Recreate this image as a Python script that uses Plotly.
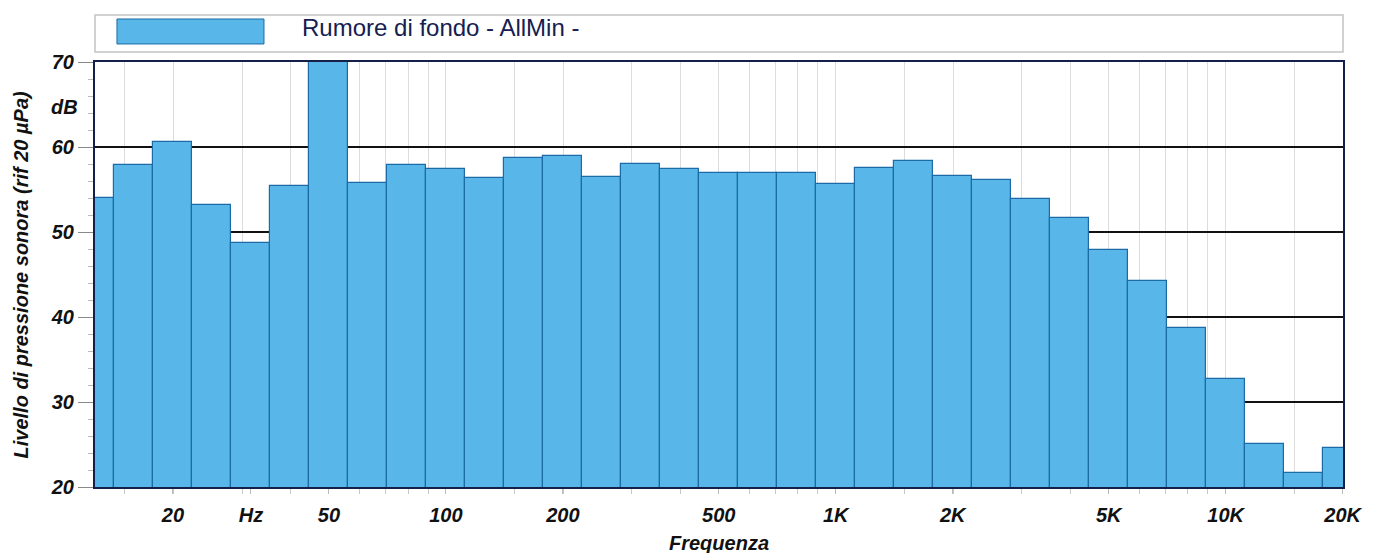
import numpy as np
import plotly.graph_objects as go

# 1/3-octave band centre frequencies (Hz)
freqs = [12.5, 16, 20, 25, 31.5, 40, 50, 63, 80, 100, 125, 160, 200, 250, 315, 400,
         500, 630, 800, 1000, 1250, 1600, 2000, 2500, 3150, 4000, 5000, 6300, 8000,
         10000, 12500, 16000, 20000]
# Sound pressure level (dB re 20 µPa)
levels = [54.0, 57.9, 60.6, 53.2, 48.7, 55.4, 71.5, 55.8, 57.9, 57.4, 56.3, 58.7, 58.9,
          56.5, 58.0, 57.4, 56.9, 56.9, 56.9, 55.6, 57.5, 58.4, 56.6, 56.1, 53.9, 51.7,
          47.9, 44.2, 38.7, 32.7, 25.1, 21.6, 24.6]

tick_freqs = [20, 31.5, 50, 100, 200, 500, 1000, 2000, 5000, 10000, 20000]
tick_labels = ["20", "Hz", "50", "100", "200", "500", "1K", "2K", "5K", "10K", "20K"]
grid_mults = [1, 1.5, 2, 3, 4, 5, 6, 7, 8, 9]
grid_decades = [10, 100, 1000, 10000]
y_ticks = [20, 30, 40, 50, 60, 70]

series_name = "Rumore di fondo - AllMin -"
x_title = "Frequenza"
y_title = "Livello di pressione sonora (rif 20 µPa)"

band_x = np.round(10 * np.log10(freqs))
tick_x = np.round(10 * np.log10(tick_freqs))
grid_x = [10 * np.log10(d * m) for d in grid_decades for m in grid_mults
          if 11 <= 10 * np.log10(d * m) <= 43]

FILL = "#58b7e8"
EDGE = "#1c6aa6"
NAVY = "#14204a"
FONT = "Liberation Sans"
TICKFONT = dict(family=FONT, size=20, weight="bold", style="italic", color="#111")

fig = go.Figure()
fig.add_trace(go.Bar(x=band_x, y=levels, width=1.0, showlegend=False,
                     marker=dict(color=FILL, line=dict(color=EDGE, width=1.2))))

fig.update_layout(
    width=1373, height=545,
    margin=dict(l=87, r=38, t=54, b=66),
    paper_bgcolor="white", plot_bgcolor="white",
    bargap=0,
    font=dict(family=FONT, color="#111"),
    xaxis=dict(
        range=[11, 43.01], tickmode="array", tickvals=tick_x, ticktext=tick_labels,
        showgrid=False, zeroline=False,
        showline=True, mirror=True, linecolor=NAVY, linewidth=2,
        ticks="outside", ticklen=5, tickcolor="#bbbbbb", ticklabelstandoff=4,
        tickfont=TICKFONT,
        minor=dict(tickmode="array", tickvals=grid_x, showgrid=True, gridcolor="#dcdcdc",
                   gridwidth=1, ticks="outside", ticklen=5, tickcolor="#c8c8c8"),
    ),
    yaxis=dict(
        range=[20, 70], tickmode="array", tickvals=y_ticks,
        showgrid=True, gridcolor="#111111", gridwidth=1.6, zeroline=False,
        showline=True, mirror=True, linecolor=NAVY, linewidth=2,
        ticks="outside", ticklen=15, tickcolor="#888888",
        tickfont=TICKFONT,
        minor=dict(dtick=2, ticks="outside", ticklen=5, tickcolor="#bbbbbb", showgrid=False),
    ),
)

# legend box
fig.add_shape(type="rect", xref="paper", yref="paper", x0=0, x1=1, y0=1.0235, y1=1.1106,
              line=dict(color="#c4c4c4", width=1.5), fillcolor="white", layer="above")
fig.add_shape(type="rect", xref="paper", yref="paper", x0=0.0176, x1=0.1354, y0=1.0424, y1=1.1012,
              line=dict(color=EDGE, width=1), fillcolor=FILL, layer="above")
fig.add_annotation(text=series_name, xref="paper", yref="paper", x=0.1645, y=1.08,
                   xanchor="left", yanchor="middle", showarrow=False,
                   font=dict(family=FONT, size=24, color="#152050"))

# unit label
fig.add_annotation(text="dB", xref="paper", yref="y", x=0, y=64.7, xanchor="right",
                   yanchor="middle", xshift=-15, showarrow=False, font=TICKFONT)
# axis titles
fig.add_annotation(text=y_title, xref="paper", yref="paper", x=0, y=0.5, xshift=-75,
                   xanchor="center", yanchor="middle", textangle=-90, showarrow=False,
                   font=TICKFONT)
fig.add_annotation(text=x_title, xref="paper", yref="paper", x=0.5, y=-0.1318,
                   xanchor="center", yanchor="middle", showarrow=False,
                   font=TICKFONT)

fig.write_html("out.html")
